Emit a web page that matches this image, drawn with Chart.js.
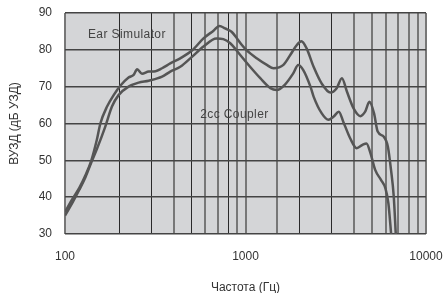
<!DOCTYPE html>
<html><head><meta charset="utf-8">
<script src="https://cdn.jsdelivr.net/npm/chart.js@4"></script>
<style>html,body{margin:0;padding:0;background:#fff}#wrap{width:448px;height:293px}</style>
</head><body><div id="wrap"><canvas id="c" width="448" height="293"></canvas></div>
<script>
const earFreq = [100,110,120,130,140,150,157,171,186,203,225,240,251,267,291,317,345,383,435,505,585,665,718,771,837,897,955,1013,1153,1313,1430,1622,1770,1925,2040,2180,2384,2640,2955,3200,3420,3650,3970,4330,4600,4860,5150,5400,5840,6150,6400,6630,6800];
const earDb   = [36,39.5,42.5,46,50,55.5,60,64.6,67.7,70.3,72.5,73.2,74.7,73.5,74.1,74.2,75,76.3,77.7,79.8,83.1,85.2,86.5,85.8,84.9,83.1,81.3,79.9,77.7,75.9,75,75.9,78.6,81.3,82.3,80.4,75.4,70.9,68.4,69.6,72.3,68.6,64.1,62,63.2,65.9,62.8,57.8,56.4,53.7,47.4,40.1,30];
const cplFreq = [100,110,120,130,140,150,167,182,198,225,256,291,345,383,435,505,585,690,754,823,935,1060,1207,1374,1490,1650,1838,1960,2090,2290,2384,2640,2880,3080,3290,3480,3800,4130,4450,4680,4900,5230,5630,5960,6190,6410];
const cplDb   = [35,38.5,42,45.5,49.5,53,59.1,64.6,67.7,70,71.1,71.6,72.7,74.1,75.4,78.1,80.9,83.1,82.9,81.8,78.6,75.4,72.3,69.6,69.1,70.5,73.6,75.9,74.5,70,67.3,62.8,61,61.9,63.2,60.5,56,53.3,54.2,54.6,52.3,47.4,44.7,42.4,38.3,30];
const xTickLabels = [100,1000,10000];
const seriesNames = ['Ear Simulator','2cc Coupler'];
const labelPos = [[134,84.0],[561,62.3]];

const toPts = (xs, ys) => xs.map((x,i)=>({x, y: ys[i]}));
const darkTicks = [200,300,500,800,2000,3000];

const bgPlugin = {
  id:'bg',
  beforeDraw(chart){
    const {ctx, chartArea:a} = chart;
    ctx.save(); ctx.fillStyle='#d4d5d7';
    ctx.fillRect(a.left, a.top, a.right-a.left, a.bottom-a.top);
    ctx.restore();
  },
  afterDatasetsDraw(chart){
    const {ctx, scales:{x,y}} = chart;
    ctx.save();
    ctx.fillStyle='#444'; ctx.font='12px "Liberation Sans", Arial, sans-serif';
    ctx.textBaseline='middle'; ctx.textAlign='left';
    if ('letterSpacing' in ctx) ctx.letterSpacing='0.4px';
    seriesNames.forEach((n,i)=>{
      ctx.fillText(n, x.getPixelForValue(labelPos[i][0]), y.getPixelForValue(labelPos[i][1]));
    });
    ctx.restore();
  }
};

new Chart(document.getElementById('c'), {
  type:'line',
  data:{datasets:[
    {label:seriesNames[0], data:toPts(earFreq,earDb), borderColor:'#555', borderWidth:2.5, pointRadius:0, cubicInterpolationMode:'monotone', fill:false},
    {label:seriesNames[1], data:toPts(cplFreq,cplDb), borderColor:'#555', borderWidth:2.5, pointRadius:0, cubicInterpolationMode:'monotone', fill:false}
  ]},
  options:{
    responsive:false, animation:false,
    layout:{padding:{left:0,right:22,top:13,bottom:0}},
    plugins:{legend:{display:false}, tooltip:{enabled:false}},
    scales:{
      x:{type:'logarithmic', min:100, max:10000,
        border:{display:false},
        grid:{drawTicks:false,
          color:(c)=> darkTicks.includes(c.tick && c.tick.value) ? '#2a2a2a' : '#777',
          lineWidth:(c)=> darkTicks.includes(c.tick && c.tick.value) ? 1 : 2},
        ticks:{autoSkip:false, maxRotation:0, padding:15, color:'#333',
          font:{family:'"Liberation Sans", Arial, sans-serif', size:12},
          callback:(v)=> xTickLabels.includes(v) ? String(v) : ''},
        title:{display:true, text:'Частота (Гц)', color:'#333',
          font:{family:'"Liberation Sans", Arial, sans-serif', size:12}, padding:{top:0,bottom:-2}},
        afterFit:(s)=>{s.height=59; s.paddingLeft=0; s.paddingRight=0;}
      },
      y:{min:30, max:90,
        border:{display:false},
        grid:{drawTicks:false, color:'#444', lineWidth:1.5},
        ticks:{stepSize:10, padding:13, color:'#333',
          font:{family:'"Liberation Sans", Arial, sans-serif', size:12}},
        title:{display:true, text:'ВУЗД (дБ УЗД)', color:'#333',
          font:{family:'"Liberation Sans", Arial, sans-serif', size:12}, padding:{top:7,bottom:0}},
        afterFit:(s)=>{s.width=65; s.paddingTop=0; s.paddingBottom=0;}
      }
    }
  },
  plugins:[bgPlugin]
});
</script></body></html>
